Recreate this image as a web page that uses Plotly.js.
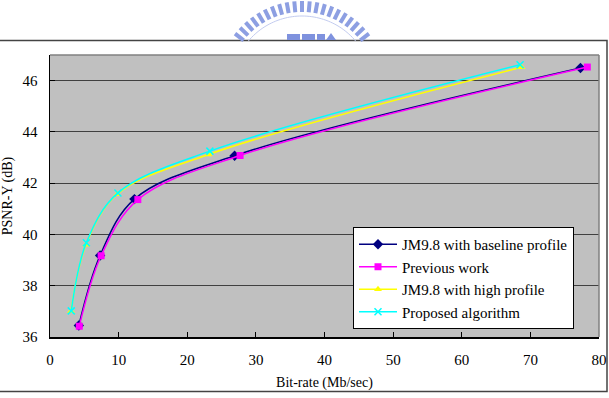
<!DOCTYPE html>
<html>
<head>
<meta charset="utf-8">
<script src="https://cdn.plot.ly/plotly-3.0.1.min.js"></script>
<style>html,body{margin:0;padding:0;background:#fff;}#chart{width:609px;height:398px;}</style>
</head>
<body>
<div id="chart"></div>
<script>
// Data
const baselineX = [4.2, 7.3, 12.3, 26.9, 77.3];
const baselineY = [36.45, 39.18, 41.38, 43.07, 46.49];
const previousX = [4.27, 7.45, 12.8, 27.7, 78.3];
const previousY = [36.42, 39.17, 41.36, 43.08, 46.53];
const highX = [3.06, 5.25, 9.8, 23.1, 68.7];
const highY = [37.0, 39.6, 41.57, 43.12, 46.52];
const proposedX = [3.1, 5.3, 9.9, 23.3, 68.5];
const proposedY = [37.02, 39.68, 41.62, 43.25, 46.62];
const seriesNames = ["JM9.8 with baseline profile", "Previous work", "JM9.8 with high profile", "Proposed algorithm"];
const xTicks = [0, 10, 20, 30, 40, 50, 60, 70, 80];
const yTicks = [36, 38, 40, 42, 44, 46];

const font = "Liberation Serif";
function tr(x, y, name, color, symbol, size) {
  return {x: x, y: y, name: name, type: 'scatter', mode: 'lines+markers',
    line: {color: color, width: 1.5, shape: 'spline', smoothing: 1},
    marker: {color: color, symbol: symbol, size: size, line: {color: color, width: symbol === 'x-thin' ? 1.5 : 0}}};
}
const data = [
  tr(baselineX, baselineY, seriesNames[0], '#000080', 'diamond', 8),
  tr(previousX, previousY, seriesNames[1], '#ff00ff', 'square', 7),
  tr(highX, highY, seriesNames[2], '#ffff00', 'triangle-up', 7),
  tr(proposedX, proposedY, seriesNames[3], '#00ffff', 'x-thin', 7)
];
const L = 50, R = 599, T = 55, B = 337;
const W = R - L, H = B - T;
const px = v => (v - L) / W;
const py = v => (B - v) / H;

const shapes = [
  {type: 'line', xref: 'paper', yref: 'paper', x0: 0, x1: 1, y0: 1, y1: 1, line: {color: '#808080', width: 1.5}},
  {type: 'line', xref: 'paper', yref: 'paper', x0: 1, x1: 1, y0: 0, y1: 1, line: {color: '#808080', width: 1.5}},
  {type: 'rect', xref: 'paper', yref: 'paper', x0: px(-2), x1: px(607), y0: py(391.5), y1: py(40.5),
    line: {color: '#444', width: 1.5}, layer: 'below'}
];
// decorative watermark logo (arc of dashes + building blocks)
const cx = 302, cy = 86;
for (let a = -52; a <= 52.1; a += 5.2) {
  const r = a * Math.PI / 180;
  const s = Math.sin(r), c = Math.cos(r);
  shapes.push({type: 'line', xref: 'paper', yref: 'paper',
    x0: px(cx + 74 * s), y0: py(cy - 74 * c), x1: px(cx + 85 * s), y1: py(cy - 85 * c),
    line: {color: '#8d9fe2', width: 4}});
}
shapes.push({type: 'path', xref: 'paper', yref: 'paper',
  path: (() => { let p = ''; for (let a = -50; a <= 50; a += 2) { const r = a * Math.PI / 180;
    p += (a === -50 ? 'M' : 'L') + px(cx + 70 * Math.sin(r)) + ',' + py(cy - 70 * Math.cos(r)); } return p; })(),
  line: {color: '#c3ccf0', width: 1}});
[[287, 300], [302, 315], [317, 325]].forEach(b => shapes.push({type: 'rect', xref: 'paper', yref: 'paper',
  x0: px(b[0]), x1: px(b[1]), y0: py(40), y1: py(34), fillcolor: '#7f92de', line: {width: 0}}));
shapes.push({type: 'path', xref: 'paper', yref: 'paper',
  path: 'M' + px(326) + ',' + py(40) + 'L' + px(331) + ',' + py(33) + 'L' + px(336) + ',' + py(40) + 'Z',
  fillcolor: '#7f92de', line: {width: 0}});

const layout = {
  width: 609, height: 398,
  margin: {l: L, r: 609 - R, t: T, b: 398 - B},
  paper_bgcolor: '#ffffff', plot_bgcolor: '#c0c0c0',
  font: {family: font, size: 14, color: '#000'},
  showlegend: true,
  legend: {x: px(353), y: py(227), xanchor: 'left', yanchor: 'top', bgcolor: '#ffffff',
    bordercolor: '#000', borderwidth: 1, font: {family: font, size: 15}, itemwidth: 38,
    tracegroupgap: 0},
  xaxis: {range: [0, 80], tickvals: xTicks, ticktext: xTicks.map(String), ticks: 'inside', ticklen: 5,
    tickcolor: '#000', showgrid: false, zeroline: false, showline: true, linecolor: '#000', linewidth: 1.5,
    ticklabelstandoff: 8, tickfont: {family: font, size: 15}, fixedrange: true,
    title: {text: 'Bit-rate (Mb/sec)', font: {family: font, size: 14}, standoff: 10}},
  yaxis: {range: [36, 47], tickvals: yTicks, ticktext: yTicks.map(String), ticks: 'inside', ticklen: 5,
    tickcolor: '#000', showgrid: true, gridcolor: '#404040', gridwidth: 1, zeroline: false, showline: true,
    linecolor: '#000', linewidth: 1.5, ticklabelstandoff: 8, tickfont: {family: font, size: 15}, fixedrange: true,
    title: {text: 'PSNR-Y (dB)', font: {family: font, size: 14}, standoff: 8}},
  shapes: shapes
};
Plotly.newPlot('chart', data, layout, {displayModeBar: false, staticPlot: true});
</script>
</body>
</html>
